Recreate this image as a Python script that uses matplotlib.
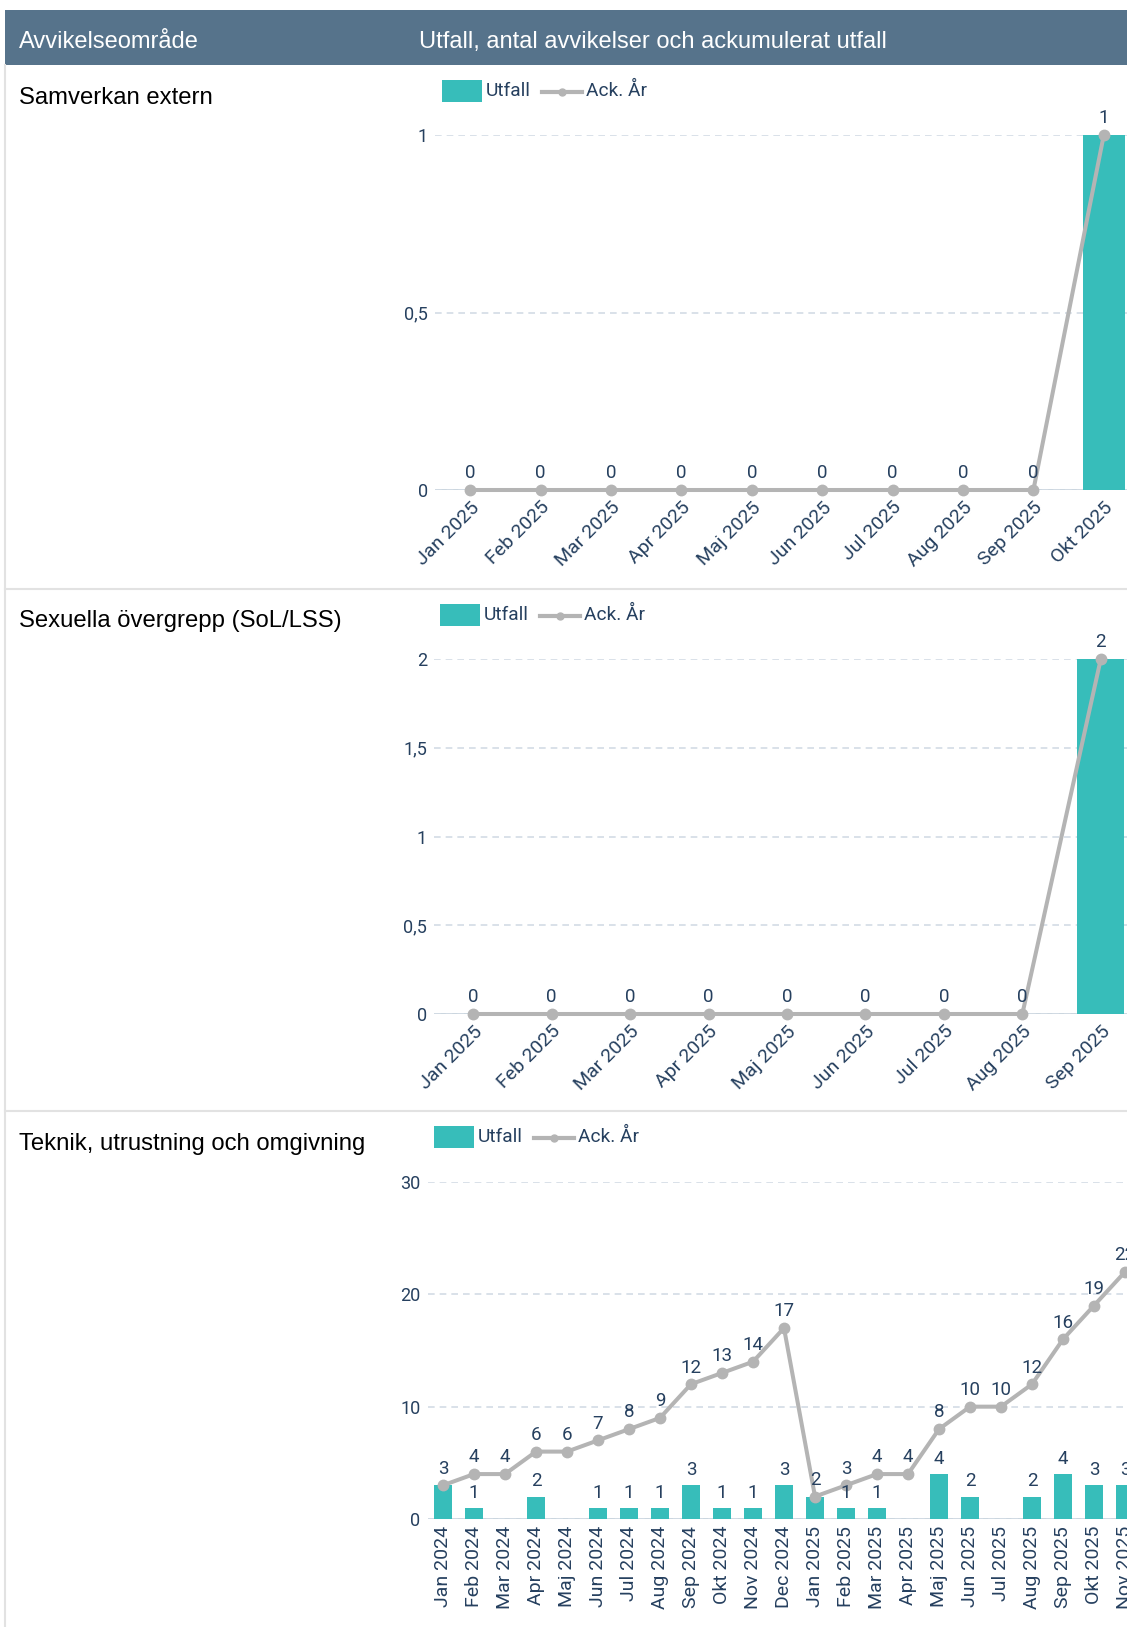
import numpy as np
import matplotlib
matplotlib.use('Agg')
import matplotlib.pyplot as plt
from matplotlib.lines import Line2D
from matplotlib.patches import Rectangle
from matplotlib.ticker import FuncFormatter


W, H = 1127, 1627

# Samverkan extern
samverkan_months = ['Jan 2025', 'Feb 2025', 'Mar 2025', 'Apr 2025', 'Maj 2025',
                    'Jun 2025', 'Jul 2025', 'Aug 2025', 'Sep 2025', 'Okt 2025']
samverkan_utfall = [0, 0, 0, 0, 0, 0, 0, 0, 0, 1]
samverkan_ack = [0, 0, 0, 0, 0, 0, 0, 0, 0, 1]
samverkan_yticks = [0, 0.5, 1]

# Sexuella övergrepp (SoL/LSS)
sexuella_months = ['Jan 2025', 'Feb 2025', 'Mar 2025', 'Apr 2025', 'Maj 2025',
                   'Jun 2025', 'Jul 2025', 'Aug 2025', 'Sep 2025']
sexuella_utfall = [0, 0, 0, 0, 0, 0, 0, 0, 2]
sexuella_ack = [0, 0, 0, 0, 0, 0, 0, 0, 2]
sexuella_yticks = [0, 0.5, 1, 1.5, 2]

# Teknik, utrustning och omgivning
teknik_months = ['Jan 2024', 'Feb 2024', 'Mar 2024', 'Apr 2024', 'Maj 2024', 'Jun 2024',
                 'Jul 2024', 'Aug 2024', 'Sep 2024', 'Okt 2024', 'Nov 2024', 'Dec 2024',
                 'Jan 2025', 'Feb 2025', 'Mar 2025', 'Apr 2025', 'Maj 2025', 'Jun 2025',
                 'Jul 2025', 'Aug 2025', 'Sep 2025', 'Okt 2025', 'Nov 2025']
teknik_utfall = [3, 1, 0, 2, 0, 1, 1, 1, 3, 1, 1, 3,
                 2, 1, 1, 0, 4, 2, 0, 2, 4, 3, 3]
teknik_ack = [3, 4, 4, 6, 6, 7, 8, 9, 12, 13, 14, 17,
              2, 3, 4, 4, 8, 10, 10, 12, 16, 19, 22]
teknik_yticks = [0, 10, 20, 30]

HEADER = '#56738B'
TEAL = '#37BDBA'
GREY = '#B4B4B4'
TEXT = '#26405F'
GRID = '#D3DCE5'
BASE = '#C5D1DC'
SEP = '#E2E2E2'

LABEL_FONT = 'Liberation Sans'
CHART_FONT = 'Roboto'

fig = plt.figure(figsize=(W / 100, H / 100), dpi=100)


def fx(px):
    return px / W


def fy(py):
    return 1 - py / H


def comma(v, pos=None):
    return ('%g' % v).replace('.', ',')


def legend(x0, y_top):
    # teal box + grey line with dot
    fig.add_artist(Rectangle((fx(x0), fy(y_top + 22)), 40 / W, 22 / H,
                             transform=fig.transFigure, color=TEAL, lw=0))
    yc = y_top + 11
    fig.text(fx(x0 + 44), fy(yc), 'Utfall', family=CHART_FONT, fontsize=13.8,
             color=TEXT, va='center', ha='left')
    fig.add_artist(Line2D([fx(x0 + 100), fx(x0 + 140)], [fy(yc + 1), fy(yc + 1)],
                          transform=fig.transFigure, color=GREY, lw=3))
    fig.add_artist(Line2D([fx(x0 + 120)], [fy(yc + 1)], transform=fig.transFigure,
                          color=GREY, marker='o', ms=5, lw=0))
    fig.text(fx(x0 + 144), fy(yc), 'Ack. År', family=CHART_FONT, fontsize=13.8,
             color=TEXT, va='center', ha='left')


def chart(months, utfall, ack, yticks, left, right, y0, ytop, rot):
    ax = fig.add_axes([fx(left), fy(y0), (right - left) / W, (y0 - ytop) / H])
    x = np.arange(len(months))
    ax.bar(x, utfall, width=0.6, color=TEAL, zorder=2, clip_on=False)
    ax.plot(x, ack, color=GREY, lw=2.9, marker='o', ms=7.5, zorder=3,
            clip_on=False, solid_joinstyle='round')
    ax.set_xlim(-0.5, len(months) - 0.5)
    ax.set_ylim(0, yticks[-1])
    ax.set_yticks(yticks)
    ax.yaxis.set_major_formatter(FuncFormatter(comma))
    ax.set_xticks(x)
    ax.grid(axis='y', color=GRID, ls=(0, (4, 3)), lw=1.2, zorder=0)
    ax.axhline(0, color=BASE, lw=2, zorder=1)
    for s in ax.spines.values():
        s.set_visible(False)
    ax.tick_params(length=0, colors=TEXT)
    for lab in ax.get_yticklabels():
        lab.set_family(CHART_FONT)
        lab.set_fontsize(13)
    ax.tick_params(axis='y', pad=5)

    if rot == 90:
        ax.set_xticklabels(months, rotation=90, ha='center', va='top',
                           family=CHART_FONT, fontsize=14)
        ax.tick_params(axis='x', pad=5)
    else:
        ax.set_xticklabels(months, rotation=45, ha='right', va='top',
                           rotation_mode='anchor', family=CHART_FONT, fontsize=14)
        ax.tick_params(axis='x', pad=6)

    # value labels: line points always, bars when non-zero and not already shown
    for xi, (u, a) in enumerate(zip(utfall, ack)):
        ax.annotate(comma(a), (xi, a), xytext=(0, 5.5), textcoords='offset points',
                    ha='center', va='bottom', family=CHART_FONT, fontsize=13.5,
                    color=TEXT, annotation_clip=False, zorder=4)
        if u != 0 and u != a:
            ax.annotate(comma(u), (xi, u), xytext=(0, 4.5), textcoords='offset points',
                        ha='center', va='bottom', family=CHART_FONT, fontsize=13.5,
                        color=TEXT, annotation_clip=False, zorder=4)
    return ax


# header band
fig.add_artist(Rectangle((fx(5), fy(65)), 1, 55 / H, transform=fig.transFigure,
                         color=HEADER, lw=0))
fig.text(fx(19), fy(48), 'Avvikelseområde', family=LABEL_FONT, fontsize=17,
         color='white', va='baseline')
fig.text(fx(419), fy(48), 'Utfall, antal avvikelser och ackumulerat utfall',
         family=LABEL_FONT, fontsize=17, color='white', va='baseline')

# table borders
fig.add_artist(Line2D([fx(5), fx(5)], [fy(65), 0], transform=fig.transFigure,
                      color=SEP, lw=1.5))
for ys in [589, 1111]:
    fig.add_artist(Line2D([fx(5), 1], [fy(ys), fy(ys)], transform=fig.transFigure,
                          color=SEP, lw=1.5))

# row labels
fig.text(fx(19), fy(104), 'Samverkan extern', family=LABEL_FONT, fontsize=17.2,
         color='black', va='baseline')
fig.text(fx(19), fy(627), 'Sexuella övergrepp (SoL/LSS)', family=LABEL_FONT,
         fontsize=17.2, color='black', va='baseline')
fig.text(fx(19), fy(1150), 'Teknik, utrustning och omgivning', family=LABEL_FONT,
         fontsize=17.2, color='black', va='baseline')

legend(442, 80)
legend(440, 604)
legend(434, 1126)

chart(samverkan_months, samverkan_utfall, samverkan_ack, samverkan_yticks,
      435, 1139, 490, 135, 45)
chart(sexuella_months, sexuella_utfall, sexuella_ack, sexuella_yticks,
      434, 1140, 1014, 659, 45)
chart(teknik_months, teknik_utfall, teknik_ack, teknik_yticks,
      427.5, 1140.5, 1519, 1182, 90)

fig.savefig('out.png', dpi=100)
